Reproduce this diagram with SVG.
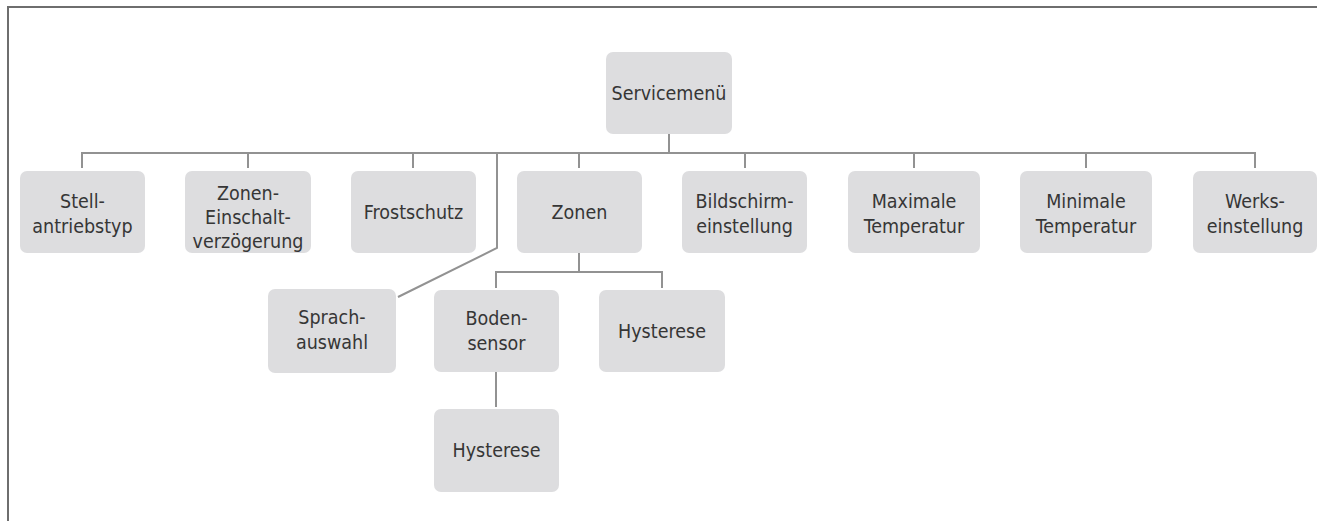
<svg xmlns="http://www.w3.org/2000/svg" width="1317" height="521" viewBox="0 0 1317 521">
<style>
.box{fill:#dddddf;}
.t{font-family:"DejaVu Sans Condensed","DejaVu Sans","Liberation Sans",sans-serif;font-stretch:condensed;font-size:19.5px;fill:#363636;text-anchor:middle;}
.c{stroke:#929292;stroke-width:2;fill:none;}
.frame{stroke:#6e6e6e;stroke-width:2;fill:none;}
</style>
<rect width="1317" height="521" fill="#ffffff"/>
<path class="frame" d="M8,521 V7 H1317"/>
<g id="connectors">
<path class="c" d="M669,134 V153"/>
<path class="c" d="M82,168 V153 H1255 V168"/>
<path class="c" d="M248,153 V168"/>
<path class="c" d="M413,153 V168"/>
<path class="c" d="M579,153 V168"/>
<path class="c" d="M745,153 V168"/>
<path class="c" d="M914,153 V168"/>
<path class="c" d="M1086,153 V168"/>
<path class="c" d="M497,153 V248 L398,297"/>
<path class="c" d="M579,253 V272"/>
<path class="c" d="M496,288 V272 H662 V288"/>
<path class="c" d="M496,372 V407"/>
</g>
<g id="servicemenu"><rect class="box" x="606" y="52" width="126" height="82" rx="7"/><text class="t" x="669" y="100">Servicemenü</text></g>
<g id="stellantriebstyp"><rect class="box" x="20" y="171" width="125" height="82" rx="7"/><text class="t" x="82.5" y="208">Stell-</text><text class="t" x="82.5" y="233">antriebstyp</text></g>
<g id="zonen-einschaltverzoegerung"><rect class="box" x="185" y="171" width="126" height="82" rx="7"/><text class="t" x="248" y="200">Zonen-</text><text class="t" x="248" y="224">Einschalt-</text><text class="t" x="248" y="248">verzögerung</text></g>
<g id="frostschutz"><rect class="box" x="351" y="171" width="125" height="82" rx="7"/><text class="t" x="413.5" y="219">Frostschutz</text></g>
<g id="zonen"><rect class="box" x="517" y="171" width="125" height="82" rx="7"/><text class="t" x="579.5" y="219">Zonen</text></g>
<g id="bildschirmeinstellung"><rect class="box" x="682" y="171" width="125" height="82" rx="7"/><text class="t" x="744.5" y="208">Bildschirm-</text><text class="t" x="744.5" y="233">einstellung</text></g>
<g id="maximale-temperatur"><rect class="box" x="848" y="171" width="132" height="82" rx="7"/><text class="t" x="914" y="208">Maximale</text><text class="t" x="914" y="233">Temperatur</text></g>
<g id="minimale-temperatur"><rect class="box" x="1020" y="171" width="132" height="82" rx="7"/><text class="t" x="1086" y="208">Minimale</text><text class="t" x="1086" y="233">Temperatur</text></g>
<g id="werkseinstellung"><rect class="box" x="1193" y="171" width="124" height="82" rx="7"/><text class="t" x="1255" y="208">Werks-</text><text class="t" x="1255" y="233">einstellung</text></g>
<g id="sprachauswahl"><rect class="box" x="268" y="289" width="128" height="84" rx="7"/><text class="t" x="332" y="324">Sprach-</text><text class="t" x="332" y="349">auswahl</text></g>
<g id="bodensensor"><rect class="box" x="434" y="290" width="125" height="82" rx="7"/><text class="t" x="496.5" y="325">Boden-</text><text class="t" x="496.5" y="350">sensor</text></g>
<g id="hysterese-zonen"><rect class="box" x="599" y="290" width="126" height="82" rx="7"/><text class="t" x="662" y="338">Hysterese</text></g>
<g id="hysterese-boden"><rect class="box" x="434" y="409" width="125" height="83" rx="7"/><text class="t" x="496.5" y="457">Hysterese</text></g>
</svg>
